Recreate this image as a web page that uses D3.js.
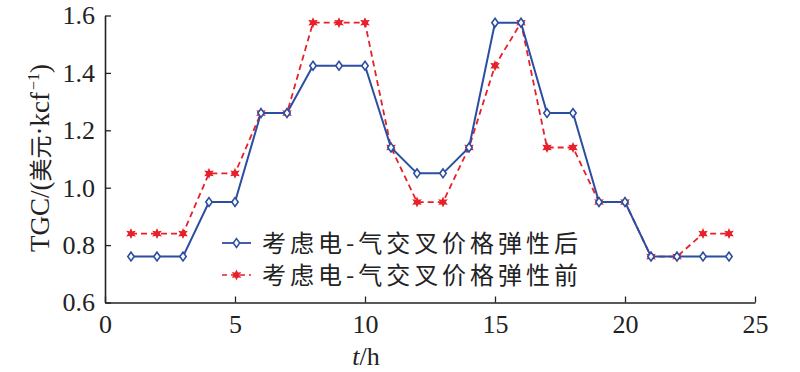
<!DOCTYPE html>
<html><head><meta charset="utf-8">
<script src="https://cdn.jsdelivr.net/npm/d3@7"></script>
<style>body{margin:0;background:#fff}</style>
</head><body>
<script>
const hours = [1,2,3,4,5,6,7,8,9,10,11,12,13,14,15,16,17,18,19,20,21,22,23,24];
const after = [0.76,0.76,0.76,0.95,0.95,1.26,1.26,1.425,1.425,1.425,1.14,1.05,1.05,1.14,1.575,1.575,1.26,1.26,0.95,0.95,0.76,0.76,0.76,0.76];
const before = [0.84,0.84,0.84,1.05,1.05,1.26,1.26,1.575,1.575,1.575,1.14,0.95,0.95,1.14,1.425,1.575,1.14,1.14,0.95,0.95,0.76,0.76,0.84,0.84];
const xTicks = [0,5,10,15,20,25];
const yTicks = [0.6,0.8,1.0,1.2,1.4,1.6];
const seriesNames = ["考虑电-气交叉价格弹性后","考虑电-气交叉价格弹性前"];

const W=800,H=372;
const svg=d3.select("body").append("svg").attr("width",W).attr("height",H);
const x=d3.scaleLinear().domain([0,25]).range([105,755]);
const y=d3.scaleLinear().domain([0.6,1.6]).range([302.5,15.5]);
const serif="'Liberation Serif','Times New Roman',serif";
const blue="#2b4ea2", red="#e8202a";

const gx=svg.append("g").attr("transform","translate(0,302.5)")
  .call(d3.axisBottom(x).tickValues(xTicks).tickFormat(d3.format("d")).tickSizeInner(-6).tickSizeOuter(0).tickPadding(12));
const gy=svg.append("g").attr("transform","translate(105,0)")
  .call(d3.axisLeft(y).tickValues(yTicks).tickFormat(d3.format(".1f")).tickSizeInner(-6).tickSizeOuter(0).tickPadding(10));
[gx,gy].forEach(g=>{
  g.attr("font-family",serif).attr("font-size",26);
  g.select(".domain").attr("stroke","#222").attr("stroke-width",1.6);
  g.selectAll(".tick line").attr("stroke","#222").attr("stroke-width",1.3);
  g.selectAll("text").attr("font-family",serif).attr("font-size",26).attr("fill","#222");
});
gx.selectAll("text").attr("dy","0.71em");

// axis titles
const xt=svg.append("text").attr("x",366).attr("y",365).attr("text-anchor","middle")
  .attr("font-family",serif).attr("font-size",26).attr("fill","#222");
xt.append("tspan").attr("font-style","italic").text("t");
xt.append("tspan").text("/h");
const yt=svg.append("text").attr("transform","translate(49,158) rotate(-90)").attr("text-anchor","middle")
  .attr("font-family",serif).attr("font-size",27).attr("fill","#222");
yt.append("tspan").text("TGC/(");
yt.append("tspan").attr("font-family","'Noto Sans CJK SC'").attr("font-size",23).text("美元");
yt.append("tspan").text("·kcf");
yt.append("tspan").attr("font-size",16).attr("dx",2).attr("dy",-10).text("−1");
yt.append("tspan").attr("dy",10).text(")");

const line=d3.line().x((d,i)=>x(hours[i])).y(d=>y(d));
const starPath="M0,-5.5L1.4,-2.4L4.8,-2.8L2.8,0L4.8,2.8L1.4,2.4L0,5.5L-1.4,2.4L-4.8,2.8L-2.8,0L-4.8,-2.8L-1.4,-2.4Z";
const diamond="M0,-4.4L3.2,0L0,4.4L-3.2,0Z";

// red series
svg.append("path").datum(before).attr("d",line).attr("fill","none").attr("stroke",red)
  .attr("stroke-width",1.8).attr("stroke-dasharray","6,4");
svg.append("g").selectAll("path").data(before).join("path")
  .attr("transform",(d,i)=>`translate(${x(hours[i])},${y(d)})`).attr("d",starPath).attr("fill",red);
// blue series
svg.append("path").datum(after).attr("d",line).attr("fill","none").attr("stroke",blue).attr("stroke-width",2);
svg.append("g").selectAll("path").data(after).join("path")
  .attr("transform",(d,i)=>`translate(${x(hours[i])},${y(d)})`).attr("d",diamond)
  .attr("fill","#fff").attr("stroke",blue).attr("stroke-width",1.6);

// legend
const lg=svg.append("g");
const rows=[{name:seriesNames[0],c:blue,dash:null,m:diamond,fill:"#fff",y:243},
            {name:seriesNames[1],c:red,dash:"5,4",m:starPath,fill:red,y:275}];
rows.forEach(r=>{
  lg.append("line").attr("x1",222).attr("x2",251).attr("y1",r.y).attr("y2",r.y)
    .attr("stroke",r.c).attr("stroke-width",r.dash?1.6:1.8).attr("stroke-dasharray",r.dash);
  lg.append("path").attr("transform",`translate(236.5,${r.y})`).attr("d",r.m)
    .attr("fill",r.fill).attr("stroke",r.dash?"none":r.c).attr("stroke-width",1.5);
  lg.append("text").attr("x",262).attr("y",r.y).attr("dy","0.36em")
    .attr("font-family","'Noto Sans CJK SC'").attr("font-size",24).attr("fill","#222")
    .attr("textLength",316).attr("lengthAdjust","spacing").text(r.name);
});
</script>
</body></html>
